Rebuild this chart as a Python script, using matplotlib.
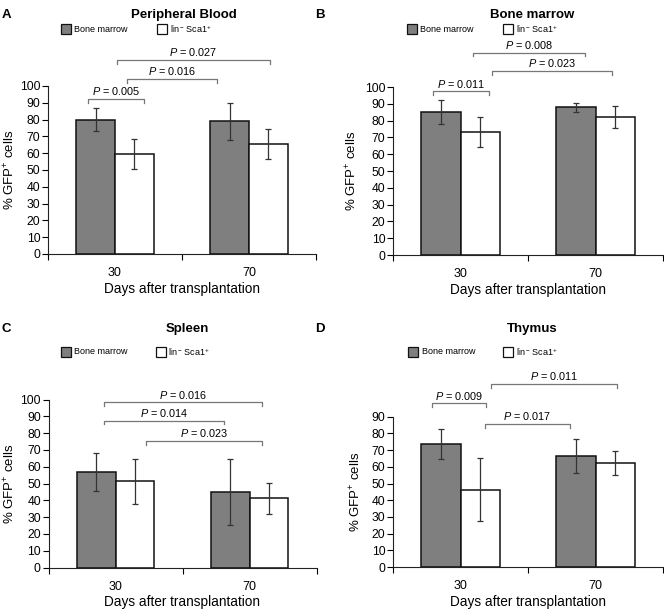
import numpy as np
import matplotlib
matplotlib.use('Agg')
import matplotlib.pyplot as plt
from matplotlib.patches import Rectangle

plt.rcParams['font.family'] = 'Liberation Sans'
plt.rcParams['mathtext.fontset'] = 'custom'
plt.rcParams['mathtext.rm'] = 'Liberation Sans'
plt.rcParams['mathtext.it'] = 'Liberation Sans:italic'

days = ['30', '70']

# % GFP+ cells, bone marrow donor vs lin- Sca1+ donor
pb_bm = [80.0, 79.0]
pb_bm_err = [7.0, 11.0]
pb_lin = [59.5, 65.5]
pb_lin_err = [8.7, 8.7]

bm_bm = [85.0, 87.9]
bm_bm_err = [7.0, 2.8]
bm_lin = [73.2, 82.0]
bm_lin_err = [9.0, 6.4]

sp_bm = [56.8, 44.9]
sp_bm_err = [11.2, 19.6]
sp_lin = [51.2, 41.1]
sp_lin_err = [13.2, 9.0]

th_bm = [73.6, 66.5]
th_bm_err = [9.2, 10.4]
th_lin = [46.3, 62.3]
th_lin_err = [18.9, 7.2]

pb_p = ['0.005', '0.016', '0.027']
bm_p = ['0.011', '0.008', '0.023']
sp_p = ['0.016', '0.014', '0.023']
th_p = ['0.009', '0.011', '0.017']

W, H = 664, 609
fig = plt.figure(figsize=(W / 100, H / 100), dpi=100)


def px_axes(left, y0, right, ytop):
    return fig.add_axes([left / W, 1 - y0 / H, (right - left) / W, (y0 - ytop) / H])


def panel(ax, bm, bm_err, lin, lin_err, ymax, brackets, pvals, ylab_x):
    x = np.arange(len(days))
    w = 0.29
    ax.bar(x - w / 2, bm, w, color='#7f7f7f', edgecolor='#111111', linewidth=1.1, zorder=2)
    ax.bar(x + w / 2, lin, w, color='white', edgecolor='#111111', linewidth=1.1, zorder=2)
    ax.errorbar(x - w / 2, bm, yerr=bm_err, fmt='none', ecolor='#333333', elinewidth=0.9,
                capsize=2.5, capthick=0.9, zorder=3)
    ax.errorbar(x + w / 2, lin, yerr=lin_err, fmt='none', ecolor='#333333', elinewidth=0.9,
                capsize=2.5, capthick=0.9, zorder=3)
    ax.set_xlim(-0.5, 1.5)
    ax.set_ylim(0, ymax)
    ax.set_yticks(np.arange(0, ymax + 1, 10))
    ax.set_xticks(x)
    ax.set_xticklabels(days)
    ax.set_xticks([-0.5, 0.5, 1.5], minor=True)
    ax.tick_params(axis='x', which='major', length=0, pad=9.5, labelsize=9)
    ax.tick_params(axis='x', which='minor', length=4, width=0.8, direction='out')
    ax.tick_params(axis='y', length=4, width=0.8, pad=1.5, labelsize=8.7)
    for s in ['top', 'right']:
        ax.spines[s].set_visible(False)
    for s in ['left', 'bottom']:
        ax.spines[s].set_linewidth(0.8)
        ax.spines[s].set_color('#222222')
    ax.set_xlabel('Days after transplantation', fontsize=9.8, labelpad=2)
    ax.set_ylabel('% GFP$^{+}$ cells', fontsize=9.5)
    ax.yaxis.set_label_coords(ylab_x, 0.5)
    for (x0, x1, y), p in zip(brackets, pvals):
        ax.plot([x0, x0, x1, x1], [y - 2.2, y, y, y - 2.2], color='#777777', lw=0.9,
                clip_on=False)
        ax.text((x0 + x1) / 2, y + 1.0, '$P$ = ' + p, ha='center', va='bottom',
                fontsize=7.8, clip_on=False)


def legend_px(x_gray, x_white, y):
    for xs, fc in [(x_gray, '#7f7f7f'), (x_white, 'white')]:
        fig.add_artist(Rectangle((xs / W, 1 - (y + 4.5) / H), 9.5 / W, 9.5 / H,
                                 transform=fig.transFigure, facecolor=fc,
                                 edgecolor='#111111', linewidth=0.9))
    fig.text((x_gray + 13.5) / W, 1 - y / H, 'Bone marrow', fontsize=6.5, va='center')
    fig.text((x_white + 12.5) / W, 1 - y / H, 'lin$^{-}$ Sca1$^{+}$', fontsize=6.5,
             va='center')


axA = px_axes(48, 254, 316, 86)
panel(axA, pb_bm, pb_bm_err, pb_lin, pb_lin_err, 100,
      [(-0.20, 0.216, 92.3), (0.09, 0.76, 104.2), (0.015, 1.157, 115.5)], pb_p, -0.115)

axB = px_axes(393, 255, 663, 87)
panel(axB, bm_bm, bm_bm_err, bm_lin, bm_lin_err, 100,
      [(-0.205, 0.214, 97.4), (0.091, 0.92, 120.4), (0.234, 1.125, 109.5)], bm_p, -0.125)

axC = px_axes(48.5, 567.5, 316.5, 399.5)
panel(axC, sp_bm, sp_bm_err, sp_lin, sp_lin_err, 100,
      [(-0.085, 1.097, 98.4), (-0.085, 0.813, 87.5), (0.231, 1.097, 75.2)], sp_p, -0.115)

axD = px_axes(393, 567, 663, 416.7)
panel(axD, th_bm, th_bm_err, th_lin, th_lin_err, 90,
      [(-0.214, 0.192, 98.0), (0.225, 1.159, 109.6), (0.178, 0.809, 85.6)], th_p, -0.11)

titles = [('Peripheral Blood', 184, 15), ('Bone marrow', 532, 15),
          ('Spleen', 187, 329), ('Thymus', 532, 329)]
for t, tx, ty in titles:
    fig.text(tx / W, 1 - ty / H, t, fontsize=9.5, fontweight='bold', ha='center', va='center')

letters = [('A', 1.5, 15), ('B', 315, 15), ('C', 1.5, 329), ('D', 315, 329)]
for t, tx, ty in letters:
    fig.text(tx / W, 1 - ty / H, t, fontsize=9.5, fontweight='bold', ha='left', va='center')

legend_px(61, 157, 29)
legend_px(407, 503, 29.5)
legend_px(61, 156, 352)
legend_px(408, 503, 352)

fig.savefig('out.png', dpi=100, facecolor='white')
